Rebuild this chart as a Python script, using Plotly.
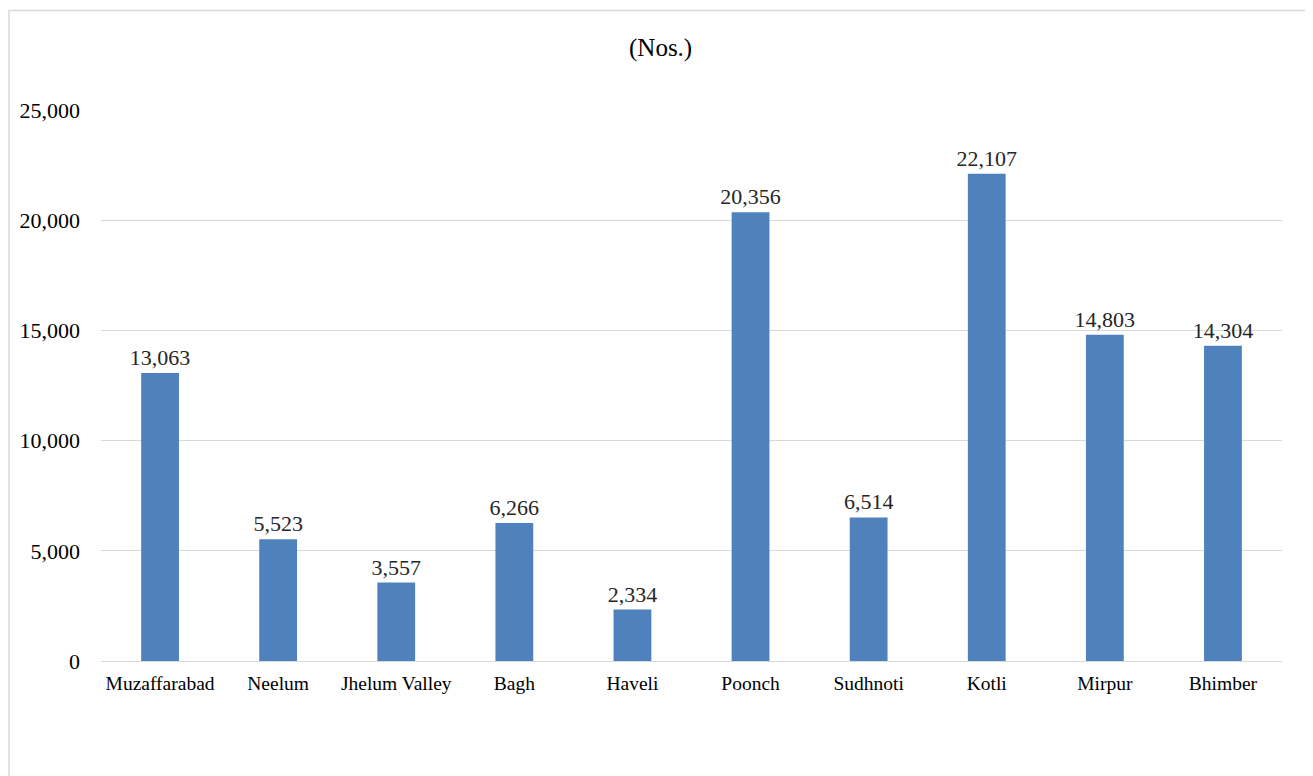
import plotly.graph_objects as go

districts = ["Muzaffarabad", "Neelum", "Jhelum Valley", "Bagh", "Haveli",
             "Poonch", "Sudhnoti", "Kotli", "Mirpur", "Bhimber"]
values = [13063, 5523, 3557, 6266, 2334, 20356, 6514, 22107, 14803, 14304]
y_ticks = [0, 5000, 10000, 15000, 20000, 25000]
y_tick_labels = ["0", "5,000", "10,000", "15,000", "20,000", "25,000"]

# page body has an 8px margin; work in page pixel coordinates
OFF = 8
W, H = 1313 - OFF, 776 - OFF
PL, PR, PT, PB = 101, 1282, 110, 661  # plot area in page pixels
L, R, T, B = PL - OFF, 1313 - PR, PT - OFF, 776 - PB
pw, ph = PR - PL, PB - PT

def px_x(p):
    return (p - PL) / pw

def px_y(p):
    return (PB - p) / ph

font = "Liberation Serif, Times New Roman, serif"

fig = go.Figure(go.Bar(
    x=districts, y=values,
    marker=dict(color="#4f81bd", line=dict(width=0)),
    texttemplate="%{y:,}", textposition="outside", constraintext="none",
    textfont=dict(family=font, size=22, color="#262626"),
    cliponaxis=False,
))

fig.update_layout(
    width=W, height=H,
    margin=dict(l=L, r=R, t=T, b=B),
    paper_bgcolor="white", plot_bgcolor="white",
    bargap=0.68, showlegend=False,
    font=dict(family=font, color="#000000"),
    xaxis=dict(showgrid=False, showline=True, linecolor="#d9d9d9", linewidth=1,
               ticks="", tickfont=dict(family=font, size=19.5, color="#000"),
               ticklabelstandoff=5),
    yaxis=dict(range=[0, 25000], tickvals=y_ticks, ticktext=y_tick_labels,
               showgrid=True, gridcolor="#d9d9d9", gridwidth=1, zeroline=False,
               ticks="", tickfont=dict(family=font, size=22, color="#000"),
               ticklabelstandoff=20),
    annotations=[dict(text="(Nos.)", x=px_x(660), y=px_y(48), xref="paper", yref="paper",
                      xanchor="center", yanchor="middle", showarrow=False,
                      font=dict(family=font, size=25, color="#000"))],
    shapes=[dict(type="rect", xref="paper", yref="paper",
                 x0=px_x(9), x1=px_x(1330), y0=px_y(800), y1=px_y(10.5),
                 line=dict(color="#d9d9d9", width=1.5), fillcolor="rgba(0,0,0,0)",
                 layer="below")],
)

fig.write_html("out.html")
